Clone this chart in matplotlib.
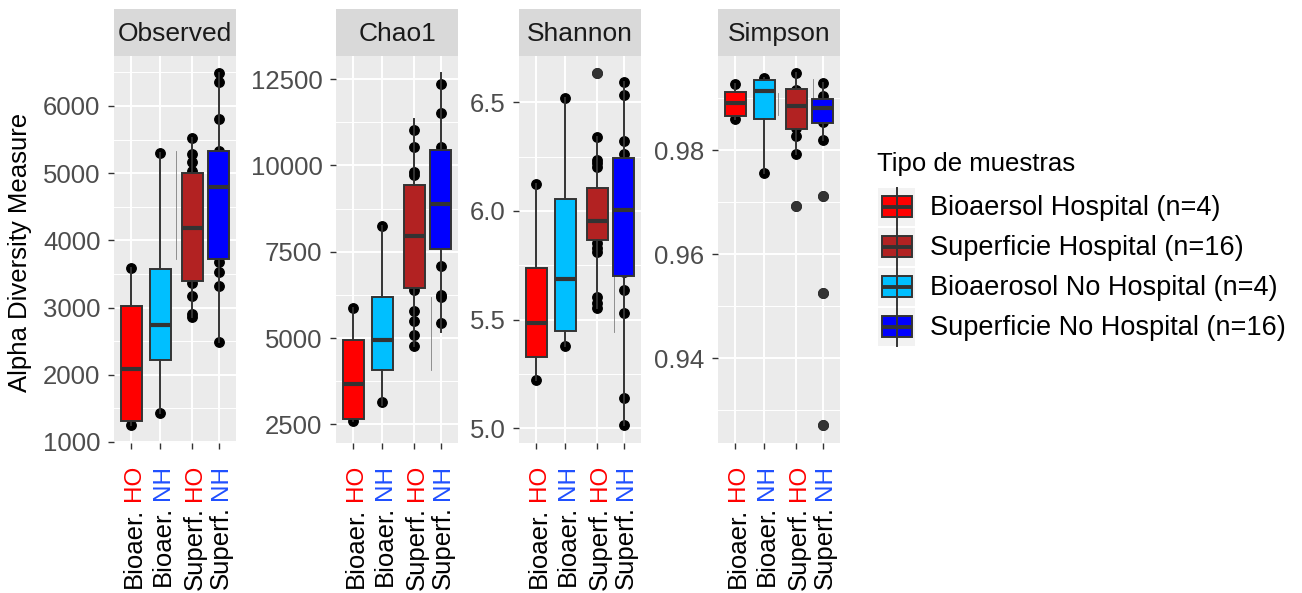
import numpy as np
import matplotlib.pyplot as plt
from matplotlib.patches import Rectangle
from matplotlib.transforms import blended_transform_factory

plt.rcParams['font.family'] = ['Liberation Sans', 'DejaVu Sans']

# Grupos (orden del eje x) y colores de relleno
metrics = ["Observed", "Chao1", "Shannon", "Simpson"]
box_colors = ["#FF0000", "#00BFFF", "#B22222", "#0000FF"]
tick_main = ["Bioaer.", "Bioaer.", "Superf.", "Superf."]
tick_site = ["HO", "NH", "HO", "NH"]
site_colors = {"HO": "#FF0000", "NH": "#1F4FFF"}

legend_title = "Tipo de muestras"
legend_labels = ["Bioaersol Hospital (n=4)", "Superficie Hospital (n=16)",
                 "Bioaerosol No Hospital (n=4)", "Superficie No Hospital (n=16)"]
legend_colors = ["#FF0000", "#B22222", "#00BFFF", "#0000FF"]

# Resumen de cada caja: (bigote inf, Q1, mediana, Q3, bigote sup)
observed_box = [(1253, 1312, 2086, 3028, 3585),
                (1427, 2216, 2741, 3570, 5305),
                (2855, 3396, 4189, 5003, 5528),
                (2484, 3728, 4790, 5330, 6495)]
observed_pts = [[3585, 2590, 1580, 1253],
                [5305, 3140, 2340, 1427],
                [5528, 5290, 5171, 5030, 4800, 4500, 4300, 4100, 3900, 3700, 3500, 3420,
                 3366, 3173, 2905, 2855],
                [6495, 6361, 5800, 5330, 5100, 4900, 4700, 4500, 4200, 4050, 3950, 3760,
                 3683, 3534, 3321, 2484]]
observed_out = [[], [], [], []]
observed_thin = [(5330, 3719)]

chao1_box = [(2596, 2665, 3659, 4933, 5869),
             (3050, 4064, 4933, 6179, 8245),
             (4767, 6449, 7967, 9444, 11336),
             (5174, 7590, 8894, 10438, 12677)]
chao1_pts = [[5869, 4400, 3000, 2596],
             [8245, 5600, 4500, 3146],
             [11020, 10537, 9813, 9717, 9000, 8500, 8200, 7800, 7500, 7100, 6800, 6400,
              5782, 5492, 5100, 4767],
             [12370, 11518, 10537, 10200, 9800, 9600, 9400, 9000, 8600, 8200, 8000, 7800,
              7086, 6237, 6179, 5435]]
chao1_out = [[], [], [], []]
chao1_thin = [(6188, 4064)]

shannon_box = [(5.222, 5.329, 5.486, 5.736, 6.123),
               (5.380, 5.448, 5.687, 6.055, 6.518),
               (5.552, 5.866, 5.955, 6.107, 6.342),
               (5.015, 5.701, 6.004, 6.242, 6.595)]
shannon_pts = [[6.123, 5.65, 5.38, 5.222],
               [6.518, 5.90, 5.55, 5.380],
               [6.633, 6.342, 6.235, 6.220, 6.204, 6.05, 6.00, 5.97, 5.94, 5.90, 5.851,
                5.828, 5.813, 5.606, 5.575, 5.552],
               [6.595, 6.534, 6.322, 6.261, 6.20, 6.10, 6.02, 5.95, 5.90, 5.85, 5.78,
                5.72, 5.636, 5.529, 5.138, 5.015]]
shannon_out = [[], [], [6.633], []]
shannon_thin = [(6.058, 5.444)]

simpson_box = [(0.98602, 0.98665, 0.98904, 0.99115, 0.99269),
               (0.97569, 0.98596, 0.99146, 0.99352, 0.99385),
               (0.97929, 0.98404, 0.98858, 0.99185, 0.99481),
               (0.98198, 0.98531, 0.98808, 0.98981, 0.99300)]
simpson_pts = [[0.99269, 0.9900, 0.9880, 0.98602],
               [0.99385, 0.9925, 0.9875, 0.97569],
               [0.99481, 0.9915, 0.9905, 0.9895, 0.9890, 0.9885, 0.9880, 0.9875, 0.9865,
                0.9850, 0.98486, 0.9842, 0.98275, 0.97929, 0.96929, 0.9910],
               [0.99300, 0.99050, 0.9895, 0.9890, 0.9885, 0.9880, 0.9875, 0.9870, 0.9865,
                0.9860, 0.9855, 0.98198, 0.97127, 0.95250, 0.92718, 0.9884]]
simpson_out = [[], [], [0.96929], [0.97127, 0.95250, 0.92718]]
simpson_thin = [(0.99108, 0.98679), (0.99365, 0.98967)]

panel_boxes = [observed_box, chao1_box, shannon_box, simpson_box]
panel_pts = [observed_pts, chao1_pts, shannon_pts, simpson_pts]
panel_out = [observed_out, chao1_out, shannon_out, simpson_out]
panel_thin = [observed_thin, chao1_thin, shannon_thin, simpson_thin]

# Ejes y de cada faceta
y_limits = [(985, 6744), (1958, 13170), (4.932, 6.713), (0.92371, 0.99813)]
y_major = [[1000, 2000, 3000, 4000, 5000, 6000],
           [2500, 5000, 7500, 10000, 12500],
           [5.0, 5.5, 6.0, 6.5],
           [0.94, 0.96, 0.98]]
y_major_lab = [["1000", "2000", "3000", "4000", "5000", "6000"],
               ["2500", "5000", "7500", "10000", "12500"],
               ["5.0", "5.5", "6.0", "6.5"],
               ["0.94", "0.96", "0.98"]]
y_minor = [[1500, 2500, 3500, 4500, 5500, 6500],
           [3750, 6250, 8750, 11250],
           [5.25, 5.75, 6.25],
           [0.93, 0.95, 0.97, 0.99]]

# Disposición en píxeles
W, H, DPI = 1302, 593, 100
panel_left = [114, 336, 519, 718]
panel_w = 122
panel_top, panel_bot, strip_top = 56, 443, 9
xpos = [1, 2, 3.1, 4]
thin_x = [[2.53], [3.67], [3.67], [2.47, 3.67]]

fig = plt.figure(figsize=(W / DPI, H / DPI), dpi=DPI)
overlay = fig.add_axes([0, 0, 1, 1], zorder=5)
overlay.set_xlim(0, W)
overlay.set_ylim(H, 0)
overlay.axis('off')

edge = "#333333"
lw_box = 1.4
axes = []
for k, name in enumerate(metrics):
    left = panel_left[k] / W
    ax = fig.add_axes([left, 1 - panel_bot / H, panel_w / W, (panel_bot - panel_top) / H])
    axes.append(ax)
    ax.set_facecolor("#EBEBEB")
    for sp in ax.spines.values():
        sp.set_visible(False)
    ax.set_xlim(0.4, 4.6)
    ax.set_ylim(*y_limits[k])
    ax.set_xticks(xpos)
    ax.set_xticklabels([])
    ax.set_yticks(y_major[k])
    ax.set_yticklabels(y_major_lab[k])
    ax.set_yticks(y_minor[k], minor=True)
    ax.set_axisbelow(True)
    ax.grid(which='major', color='white', linewidth=1.4)
    ax.grid(which='minor', axis='y', color='white', linewidth=0.7)
    ax.tick_params(axis='y', which='major', length=4.3, width=1.0, color=edge,
                   labelsize=18.5, labelcolor='#4D4D4D', pad=5.5)
    ax.tick_params(axis='y', which='minor', length=0)
    ax.tick_params(axis='x', length=4.3, width=1.0, color=edge)

    # líneas finas sueltas
    for xi, (hi, lo) in zip(thin_x[k], panel_thin[k]):
        ax.plot([xi, xi], [lo, hi], color='#7F7F7F', linewidth=0.6, zorder=2)

    # puntos individuales (quedan bajo las cajas)
    for i, p in enumerate(panel_pts[k]):
        ax.plot(np.full(len(p), xpos[i]), p, 'o', color='black', markersize=6.8,
                linestyle='none', zorder=2.5)

    stats = []
    for i, b in enumerate(panel_boxes[k]):
        stats.append(dict(whislo=b[0], q1=b[1], med=b[2], q3=b[3], whishi=b[4],
                          fliers=panel_out[k][i]))
    bp = ax.bxp(stats, positions=xpos, widths=0.75, patch_artist=True, showcaps=False,
                manage_ticks=False, zorder=3,
                boxprops=dict(edgecolor=edge, linewidth=lw_box),
                medianprops=dict(color=edge, linewidth=3.0, solid_capstyle='butt'),
                whiskerprops=dict(color=edge, linewidth=lw_box),
                flierprops=dict(marker='o', markerfacecolor=edge, markeredgecolor=edge,
                                markersize=6.8))
    for patch, c in zip(bp['boxes'], box_colors):
        patch.set_facecolor(c)

    # franja con el nombre de la métrica
    st = fig.add_axes([left, 1 - panel_top / H, panel_w / W, (panel_top - strip_top) / H])
    st.set_facecolor("#D9D9D9")
    st.set_xticks([])
    st.set_yticks([])
    for sp in st.spines.values():
        sp.set_visible(False)
    st.text(0.5, 0.47, name, ha='center', va='center', fontsize=19, color='#1A1A1A',
            transform=st.transAxes)

fig.text(20 / W, 1 - 252 / H, "Alpha Diversity Measure", rotation=90, ha='center',
         va='center', fontsize=18.5, color='black')

# etiquetas del eje x en dos colores
site_texts = []
for ax in axes:
    tr = blended_transform_factory(ax.transData, overlay.transData)
    for i in range(4):
        t = overlay.text(xpos[i], 465, tick_site[i], transform=tr, rotation=90,
                         rotation_mode='anchor', ha='right', va='center_baseline',
                         fontsize=17.5, color=site_colors[tick_site[i]])
        site_texts.append((ax, i, t))

fig.canvas.draw()
renderer = fig.canvas.get_renderer()
for ax, i, t in site_texts:
    ext = t.get_window_extent(renderer).height
    tr = blended_transform_factory(ax.transData, overlay.transData)
    overlay.text(xpos[i], 465 + ext + 6, tick_main[i], transform=tr, rotation=90,
                 rotation_mode='anchor', ha='right', va='center_baseline',
                 fontsize=18.5, color='black')

# leyenda
overlay.text(877, 164, legend_title, ha='left', va='center', fontsize=18.5)
for i, (lab, c) in enumerate(zip(legend_labels, legend_colors)):
    top = 188 + 40 * i
    overlay.add_patch(Rectangle((878, top), 37, 38, facecolor='#F2F2F2', edgecolor='none'))
    overlay.plot([896.5, 896.5], [top, top + 38], color=edge, linewidth=lw_box)
    overlay.add_patch(Rectangle((881.5, top + 8), 30, 21, facecolor=c, edgecolor=edge,
                                linewidth=lw_box))
    overlay.plot([881.5, 911.5], [top + 18.5, top + 18.5], color=edge, linewidth=2.8,
                 solid_capstyle='butt')
    overlay.text(930, top + 20, lab, ha='left', va='center', fontsize=19.5)

fig.savefig("out.png", dpi=DPI)
